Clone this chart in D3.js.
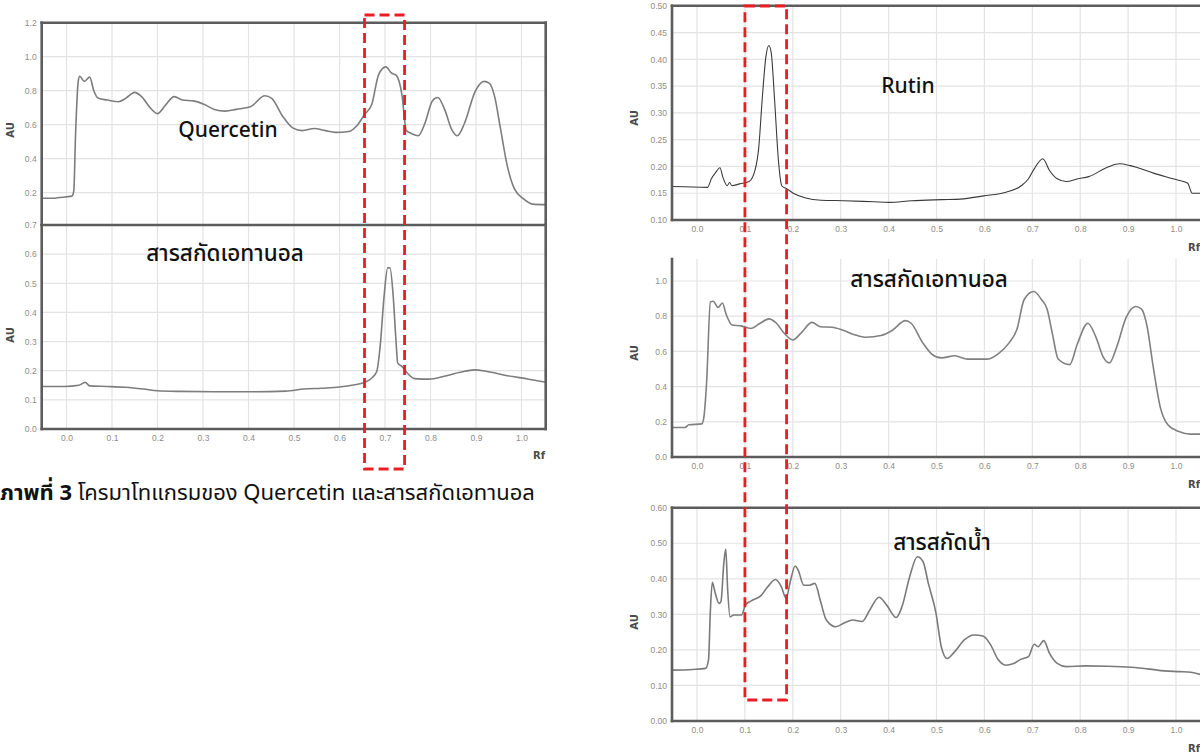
<!DOCTYPE html>
<html>
<head>
<meta charset="utf-8">
<script src="https://cdn.jsdelivr.net/npm/d3@7"></script>
<style>
body { margin: 0; background: #fff; }
svg { display: block; font-family: "DejaVu Sans", Verdana, sans-serif; }
.tick text { fill: #8c8c8c; font-size: 8.5px; }
.thai { font-family: "Noto Sans Thai", "Noto Sans Thai UI", "Noto Sans", "DejaVu Sans", sans-serif; }
</style>
</head>
<body>
<svg id="fig" width="1200" height="753"></svg>
<script>
// Rf ticks shared by every chromatogram
var rfTicks = [0, 0.1, 0.2, 0.3, 0.4, 0.5, 0.6, 0.7, 0.8, 0.9, 1.0];

// y tick values per panel
var quercetinTicks = [0.2, 0.4, 0.6, 0.8, 1.0, 1.2];
var ethanolLeftTicks = [0, 0.1, 0.2, 0.3, 0.4, 0.5, 0.6, 0.7];
var rutinTicks = [0.10, 0.15, 0.20, 0.25, 0.30, 0.35, 0.40, 0.45, 0.50];
var ethanolRightTicks = [0, 0.2, 0.4, 0.6, 0.8, 1.0];
var waterTicks = [0, 0.1, 0.2, 0.3, 0.4, 0.5, 0.6];

// [Rf, AU]
var quercetin = [
  [-0.053,0.167],[-0.027,0.167],[-0.02,0.17],[0.012,0.18],[0.016,0.21],[0.02,0.55],[0.026,0.86],[0.029,0.885],
  [0.039,0.855],[0.051,0.88],[0.06,0.8],[0.07,0.755],[0.09,0.745],[0.114,0.735],[0.13,0.755],[0.15,0.79],
  [0.165,0.765],[0.184,0.7],[0.2,0.665],[0.216,0.71],[0.237,0.765],[0.255,0.745],[0.279,0.74],[0.302,0.72],
  [0.325,0.69],[0.349,0.68],[0.373,0.69],[0.404,0.705],[0.436,0.77],[0.451,0.755],[0.475,0.65],[0.498,0.58],
  [0.518,0.565],[0.545,0.578],[0.569,0.565],[0.592,0.555],[0.62,0.56],[0.64,0.6],[0.655,0.66],[0.671,0.72],
  [0.686,0.895],[0.702,0.94],[0.714,0.905],[0.725,0.89],[0.737,0.78],[0.747,0.565],[0.757,0.55],[0.773,0.535],
  [0.788,0.61],[0.804,0.74],[0.816,0.76],[0.831,0.69],[0.847,0.57],[0.859,0.535],[0.875,0.61],[0.898,0.795],
  [0.918,0.855],[0.929,0.845],[0.941,0.765],[0.953,0.59],[0.969,0.355],[0.984,0.225],[1.004,0.165],[1.024,0.133],
  [1.055,0.13]
];

var ethanolLeft = [
  [-0.053,0.146],[-0.004,0.146],[0.027,0.15],[0.041,0.16],[0.051,0.148],[0.09,0.146],[0.13,0.143],[0.169,0.137],
  [0.2,0.131],[0.247,0.129],[0.325,0.128],[0.404,0.128],[0.482,0.13],[0.522,0.137],[0.561,0.14],[0.6,0.144],
  [0.631,0.151],[0.655,0.16],[0.671,0.175],[0.682,0.198],[0.69,0.295],[0.698,0.456],[0.706,0.553],[0.711,0.553],
  [0.718,0.456],[0.724,0.307],[0.728,0.226],[0.737,0.215],[0.749,0.192],[0.765,0.173],[0.796,0.171],[0.835,0.183],
  [0.875,0.198],[0.898,0.203],[0.922,0.198],[0.969,0.183],[1.016,0.171],[1.055,0.16]
];

var rutin = [
  [-0.053,0.1625],[0.022,0.161],[0.03,0.177],[0.038,0.1875],[0.048,0.1975],[0.054,0.18],[0.063,0.164],[0.068,0.17],
  [0.073,0.164],[0.089,0.1675],[0.109,0.172],[0.121,0.1925],[0.129,0.236],[0.136,0.324],[0.144,0.406],[0.15,0.426],
  [0.155,0.412],[0.162,0.324],[0.17,0.211],[0.177,0.164],[0.188,0.158],[0.203,0.149],[0.227,0.141],[0.259,0.137],
  [0.306,0.136],[0.369,0.134],[0.401,0.133],[0.448,0.136],[0.511,0.138],[0.55,0.139],[0.598,0.145],[0.645,0.152],
  [0.677,0.164],[0.692,0.177],[0.704,0.1955],[0.722,0.2145],[0.736,0.1925],[0.752,0.177],[0.771,0.172],[0.795,0.177],
  [0.818,0.181],[0.858,0.199],[0.882,0.205],[0.905,0.2015],[0.953,0.1875],[1.0,0.1755],[1.024,0.169],[1.034,0.15],
  [1.055,0.15]
];

var ethanolRight = [
  [-0.053,0.168],[-0.025,0.168],[-0.017,0.183],[0.01,0.188],[0.014,0.22],[0.02,0.42],[0.028,0.88],[0.034,0.885],
  [0.044,0.85],[0.053,0.875],[0.061,0.81],[0.073,0.75],[0.092,0.745],[0.112,0.73],[0.132,0.76],[0.15,0.785],
  [0.164,0.765],[0.183,0.7],[0.2,0.665],[0.219,0.71],[0.24,0.765],[0.258,0.74],[0.282,0.737],[0.305,0.72],
  [0.329,0.695],[0.353,0.68],[0.384,0.69],[0.408,0.72],[0.435,0.775],[0.447,0.76],[0.471,0.65],[0.49,0.585],
  [0.51,0.563],[0.538,0.575],[0.565,0.556],[0.605,0.556],[0.628,0.585],[0.652,0.65],[0.668,0.726],[0.683,0.895],
  [0.703,0.94],[0.719,0.895],[0.731,0.84],[0.742,0.7],[0.754,0.557],[0.778,0.525],[0.794,0.642],[0.816,0.76],
  [0.833,0.68],[0.849,0.563],[0.861,0.535],[0.876,0.624],[0.896,0.793],[0.916,0.855],[0.928,0.84],[0.94,0.737],
  [0.952,0.52],[0.967,0.285],[0.983,0.183],[1.006,0.145],[1.03,0.13],[1.055,0.13]
];

var water = [
  [-0.053,0.143],[-0.009,0.145],[0.018,0.148],[0.024,0.172],[0.028,0.313],[0.032,0.39],[0.038,0.36],[0.046,0.331],
  [0.05,0.336],[0.056,0.444],[0.06,0.484],[0.064,0.369],[0.069,0.293],[0.077,0.298],[0.093,0.298],[0.101,0.326],
  [0.113,0.338],[0.133,0.352],[0.148,0.378],[0.164,0.398],[0.176,0.378],[0.186,0.345],[0.195,0.394],[0.205,0.436],
  [0.211,0.425],[0.223,0.382],[0.235,0.382],[0.246,0.387],[0.258,0.336],[0.27,0.284],[0.29,0.265],[0.309,0.277],
  [0.325,0.284],[0.345,0.28],[0.361,0.313],[0.38,0.348],[0.396,0.326],[0.416,0.291],[0.428,0.322],[0.444,0.406],
  [0.46,0.462],[0.472,0.448],[0.483,0.387],[0.499,0.303],[0.51,0.209],[0.522,0.176],[0.538,0.195],[0.558,0.228],
  [0.578,0.242],[0.597,0.239],[0.613,0.214],[0.629,0.172],[0.645,0.157],[0.661,0.162],[0.677,0.174],[0.692,0.181],
  [0.704,0.216],[0.712,0.209],[0.724,0.226],[0.736,0.19],[0.752,0.162],[0.771,0.153],[0.811,0.155],[0.858,0.154],
  [0.906,0.151],[0.945,0.146],[0.976,0.141],[1.008,0.139],[1.031,0.137],[1.055,0.129]
];

// Rf bands marked with the red dashed boxes
var leftBand = [0.655, 0.743];
var rightBand = [0.100, 0.187];

var svg = d3.select("#fig");
var clipN = 0;

function panel(o) {
  var x = d3.scaleLinear().domain([0, 1]).range(o.xr);
  var y = d3.scaleLinear().domain(o.yd).range(o.yr);
  var g = svg.append("g");
  var id = "clip" + (clipN++);

  svg.append("clipPath").attr("id", id).append("rect")
    .attr("x", o.l).attr("y", o.t)
    .attr("width", o.r - o.l).attr("height", o.b - o.t);

  // grid
  g.append("g").selectAll("line").data(rfTicks).join("line")
    .attr("x1", x).attr("x2", x).attr("y1", o.t).attr("y2", o.b)
    .attr("stroke", "#e3e3e3").attr("stroke-width", 1.2);
  g.append("g").selectAll("line").data(o.yTicks).join("line")
    .attr("x1", o.l).attr("x2", o.r).attr("y1", y).attr("y2", y)
    .attr("stroke", "#e3e3e3").attr("stroke-width", 1.2);

  var line = d3.line()
    .x(d => x(d[0]))
    .y(d => y(d[1]))
    .curve(d3.curveMonotoneX);

  g.append("path")
    .datum(o.data)
    .attr("clip-path", "url(#" + id + ")")
    .attr("fill", "none")
    .attr("stroke", o.color)
    .attr("stroke-width", o.w)
    .attr("d", line);

  // frame
  var sides = {
    top: [o.l, o.t, o.r, o.t], bottom: [o.l, o.b, o.r, o.b],
    left: [o.l, o.t, o.l, o.b], right: [o.r, o.t, o.r, o.b]
  };
  o.frame.forEach(function(s) {
    var c = sides[s];
    g.append("line")
      .attr("x1", c[0]).attr("y1", c[1]).attr("x2", c[2]).attr("y2", c[3])
      .attr("stroke", "#5c5c5c").attr("stroke-width", 2.6)
      .attr("stroke-linecap", "square");
  });

  // axes
  g.append("g")
    .attr("transform", "translate(" + (o.l - 1) + ",0)")
    .call(d3.axisLeft(y).tickValues(o.yTicks).tickFormat(d3.format(o.fmt)).tickSize(0).tickPadding(4))
    .call(s => s.select(".domain").remove());

  if (o.xAxis) {
    g.append("g")
      .attr("transform", "translate(0," + o.b + ")")
      .call(d3.axisBottom(x).tickValues(rfTicks).tickFormat(d3.format(".1f")).tickSize(0).tickPadding(6))
      .call(s => s.select(".domain").remove());
  }

  g.append("text")
    .attr("transform", "translate(" + o.au[0] + "," + o.au[1] + ") rotate(-90)")
    .attr("text-anchor", "middle")
    .attr("font-size", 10).attr("font-weight", "bold").attr("fill", "#4a4a4a")
    .text("AU");

  if (o.rf) {
    g.append("text")
      .attr("x", o.rf[0]).attr("y", o.rf[1])
      .attr("text-anchor", "end")
      .attr("font-size", 10).attr("font-weight", "bold").attr("fill", "#4a4a4a")
      .text("Rf");
  }

  g.append("text")
    .attr("class", "thai")
    .attr("x", o.title[0]).attr("y", o.title[1])
    .attr("text-anchor", "middle")
    .attr("font-size", o.fs || 21).attr("font-weight", 500).attr("fill", "#111")
    .text(o.name);

  return x;
}

// left figure
var xl = panel({
  name: "Quercetin", data: quercetin, yTicks: quercetinTicks, fmt: ".1f",
  xr: [66.5, 521.5], yd: [0, 1.2], yr: [226.7, 22.7],
  l: 41.7, r: 545.7, t: 22.7, b: 224.5, frame: ["top", "left", "right"],
  color: "#7d7d7d", w: 1.6, au: [14, 130], title: [228, 137], xAxis: false
});
panel({
  name: "สารสกัดเอทานอล", data: ethanolLeft, yTicks: ethanolLeftTicks, fmt: ".1f",
  xr: [66.5, 521.5], yd: [0, 0.7], yr: [429, 225],
  l: 41.7, r: 545.7, t: 225, b: 429, frame: ["top", "left", "right", "bottom"],
  color: "#7d7d7d", w: 1.6, au: [14, 335], rf: [545, 459], title: [225, 261], fs: 22.5, xAxis: true
});

// right figure
var xr = panel({
  name: "Rutin", data: rutin, yTicks: rutinTicks, fmt: ".2f",
  xr: [697, 1176], yd: [0.10, 0.50], yr: [220, 5.8],
  l: 672, r: 1202, t: 5.8, b: 220, frame: ["top", "left", "bottom"],
  color: "#3a3a3a", w: 1.1, au: [638, 118], rf: [1200, 251], title: [908, 93], xAxis: true
});
panel({
  name: "สารสกัดเอทานอล", data: ethanolRight, yTicks: ethanolRightTicks, fmt: ".1f",
  xr: [697, 1176], yd: [0, 1.0], yr: [457, 281],
  l: 672, r: 1202, t: 259, b: 457, frame: ["left", "bottom"],
  color: "#808080", w: 1.6, au: [638, 353], rf: [1200, 488], title: [929, 287], fs: 22.5, xAxis: true
});
panel({
  name: "สารสกัดน้ำ", data: water, yTicks: waterTicks, fmt: ".2f",
  xr: [697, 1176], yd: [0, 0.6], yr: [721, 507.7],
  l: 672, r: 1202, t: 507.7, b: 721, frame: ["top", "left", "bottom"],
  color: "#7a7a7a", w: 1.6, au: [638, 622], rf: [1200, 752], title: [942, 550], fs: 22.5, xAxis: true
});

// red dashed boxes
function band(x, b, top, bottom) {
  svg.append("rect")
    .attr("x", x(b[0])).attr("y", top)
    .attr("width", x(b[1]) - x(b[0])).attr("height", bottom - top)
    .attr("fill", "none")
    .attr("stroke", "#ec1c24")
    .attr("stroke-width", 2.8)
    .attr("stroke-dasharray", "10,5");
}
band(xl, leftBand, 15, 469);
band(xr, rightBand, 6, 700);

// caption
var cap = svg.append("text")
  .attr("class", "thai")
  .attr("x", 0).attr("y", 500)
  .attr("font-size", 22).attr("fill", "#111");
cap.append("tspan").attr("font-weight", "bold").text("ภาพที่ 3");
cap.append("tspan").text(" โครมาโทแกรมของ Quercetin และสารสกัดเอทานอล");
</script>
</body>
</html>
